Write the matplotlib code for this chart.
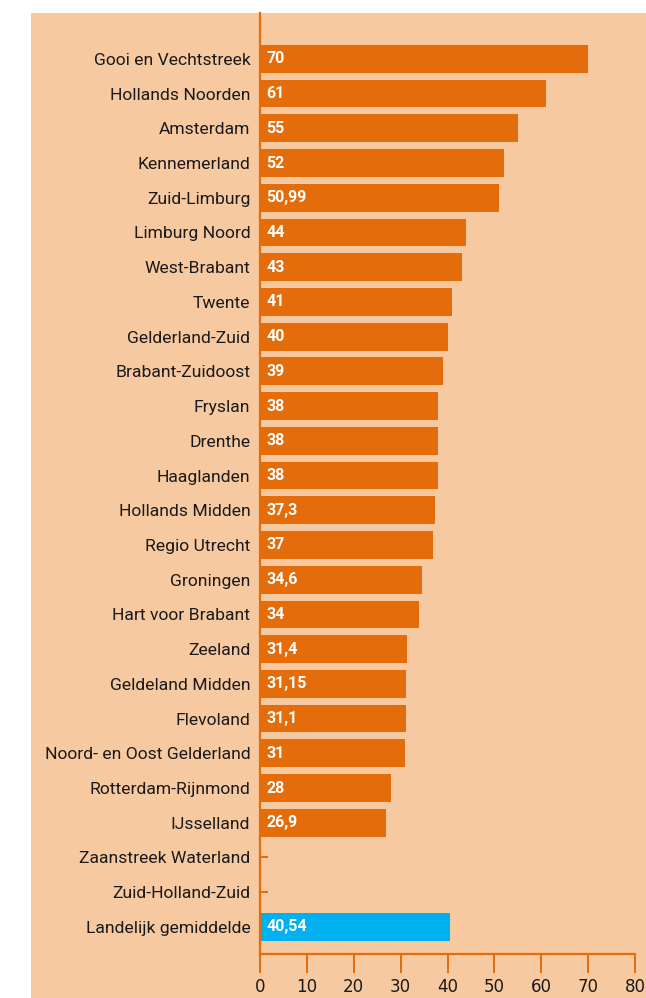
import matplotlib.pyplot as plt
from matplotlib.patches import Rectangle

regios = ['Gooi en Vechtstreek', 'Hollands Noorden', 'Amsterdam', 'Kennemerland',
          'Zuid-Limburg', 'Limburg Noord', 'West-Brabant', 'Twente', 'Gelderland-Zuid',
          'Brabant-Zuidoost', 'Fryslan', 'Drenthe', 'Haaglanden', 'Hollands Midden',
          'Regio Utrecht', 'Groningen', 'Hart voor Brabant', 'Zeeland', 'Geldeland Midden',
          'Flevoland', 'Noord- en Oost Gelderland', 'Rotterdam-Rijnmond', 'IJsselland',
          'Zaanstreek Waterland', 'Zuid-Holland-Zuid', 'Landelijk gemiddelde']
waarden = [70, 61, 55, 52, 50.99, 44, 43, 41, 40, 39, 38, 38, 38, 37.3, 37, 34.6, 34,
           31.4, 31.15, 31.1, 31, 28, 26.9, None, None, 40.54]
labels = ['70', '61', '55', '52', '50,99', '44', '43', '41', '40', '39', '38', '38', '38',
          '37,3', '37', '34,6', '34', '31,4', '31,15', '31,1', '31', '28', '26,9', '', '', '40,54']
xticks = [0, 10, 20, 30, 40, 50, 60, 70, 80]

oranje = '#E46C0A'
blauw = '#00B0F0'
perzik = '#F7C9A0'

W, H = 646, 998
fig = plt.figure(figsize=(W / 100, H / 100), dpi=100)
fig.patch.set_facecolor('white')
fig.add_artist(Rectangle((31 / W, 0), 1 - 31 / W, 1 - 13 / H, transform=fig.transFigure,
                         facecolor=perzik, edgecolor='none', zorder=-5))

ax = fig.add_axes([260 / W, 1 - 954 / H, (635 - 260) / W, (954 - 13) / H])
ax.set_facecolor('none')
ax.set_zorder(2)

ypos = list(range(len(regios)))
for i, (v, lab) in enumerate(zip(waarden, labels)):
    if v is None:
        continue
    kleur = blauw if i == len(regios) - 1 else oranje
    ax.barh(i, v, height=0.8, color=kleur, zorder=2)
    ax.text(1.3, i, lab, color='white', fontweight='bold', fontsize=11.5,
            family='Roboto', va='center', ha='left', zorder=3)

ax.set_ylim(len(regios) - 1 + 0.78, -1.32)
ax.set_xlim(0, 80)
ax.set_yticks(ypos)
ax.set_yticklabels(regios, fontsize=12.6, color='#1a1a1a', family='Roboto')
ax.set_xticks(xticks)
ax.set_xticklabels([str(t) for t in xticks], fontsize=12, color='#1a1a1a')

for s in ['top', 'right']:
    ax.spines[s].set_visible(False)
for s in ['left', 'bottom']:
    ax.spines[s].set_color(oranje)
    ax.spines[s].set_linewidth(1.6)
ax.tick_params(axis='y', direction='in', length=6, width=1.4, color=oranje, pad=7)
ax.tick_params(axis='x', direction='out', length=14, width=1.4, color=oranje, pad=3)

plt.savefig('out.png', dpi=100)
